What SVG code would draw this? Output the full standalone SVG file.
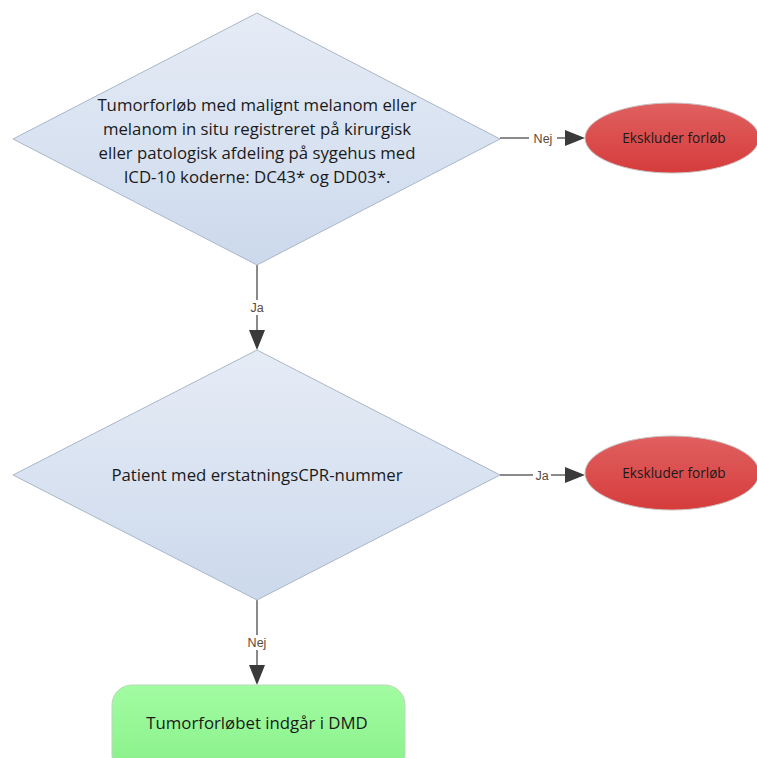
<svg xmlns="http://www.w3.org/2000/svg" width="757" height="758" viewBox="0 0 757 758">
<style>
.t{font-family:"Open Sans","Liberation Sans",sans-serif;fill:#1a1a1a;text-anchor:middle}
.d{font-size:16.8px}
.e{font-size:13.6px}
.lbl{font-family:"Liberation Sans",sans-serif;font-size:12.5px;fill:#5a4a3a;text-anchor:middle}
.dia{fill:url(#gb);stroke:#a9b6c8;stroke-width:1}
.ell{fill:url(#gr);stroke:#c9c0c0;stroke-width:1}
.con{stroke:#8a8a8a;stroke-width:2;fill:none}
</style>
<defs>
<linearGradient id="gb" x1="0" y1="0" x2="0" y2="1"><stop offset="0" stop-color="#e6ecf6"/><stop offset="1" stop-color="#ccd9ec"/></linearGradient>
<linearGradient id="gr" x1="0" y1="0" x2="0" y2="1"><stop offset="0" stop-color="#e06060"/><stop offset="1" stop-color="#d63c3c"/></linearGradient>
<linearGradient id="gg" x1="0" y1="0" x2="0" y2="1"><stop offset="0" stop-color="#a2fca2"/><stop offset="1" stop-color="#88f088"/></linearGradient>
</defs>
<rect width="757" height="758" fill="#fff"/>
<g id="connectors">
<path class="con" d="M500,138 H565"/><polygon points="565,130 585,138 565,146" fill="#3a3a3a"/>
<rect x="529" y="131" width="28" height="15" fill="#fff"/><text class="lbl" x="543" y="143">Nej</text>
<path class="con" d="M257,265 V330"/><polygon points="249,330 257,350 265,330" fill="#3a3a3a"/>
<rect x="248" y="300" width="18" height="15" fill="#fff"/><text class="lbl" x="257" y="312">Ja</text>
<path class="con" d="M500,475 H565"/><polygon points="565,467 585,475 565,483" fill="#3a3a3a"/>
<rect x="533" y="468" width="18" height="15" fill="#fff"/><text class="lbl" x="542" y="480">Ja</text>
<path class="con" d="M257,600 V665"/><polygon points="249,665 257,685 265,665" fill="#3a3a3a"/>
<rect x="243" y="635" width="28" height="15" fill="#fff"/><text class="lbl" x="257" y="647">Nej</text>
</g>
<g id="d1">
<polygon class="dia" points="257,13 500,139 257,265 13,139"/>
<text class="t d" x="257" y="111">Tumorforløb med malignt melanom eller</text>
<text class="t d" x="257" y="135">melanom in situ registreret på kirurgisk</text>
<text class="t d" x="257" y="159">eller patologisk afdeling på sygehus med</text>
<text class="t d" x="257" y="183">ICD-10 koderne: DC43* og DD03*.</text>
</g>
<g id="e1">
<ellipse class="ell" cx="672" cy="138" rx="87" ry="35"/>
<text class="t e" x="674" y="143">Ekskluder forløb</text>
</g>
<g id="d2">
<polygon class="dia" points="257,350 500,475 257,600 13,475"/>
<text class="t d" x="257" y="481">Patient med erstatningsCPR-nummer</text>
</g>
<g id="e2">
<ellipse class="ell" cx="672" cy="473" rx="87" ry="37"/>
<text class="t e" x="674" y="478">Ekskluder forløb</text>
</g>
<g id="end">
<rect x="112" y="685" width="293" height="90" rx="20" fill="url(#gg)" stroke="#b8d8b8"/>
<text class="t d" x="257" y="729">Tumorforløbet indgår i DMD</text>
</g>
</svg>
